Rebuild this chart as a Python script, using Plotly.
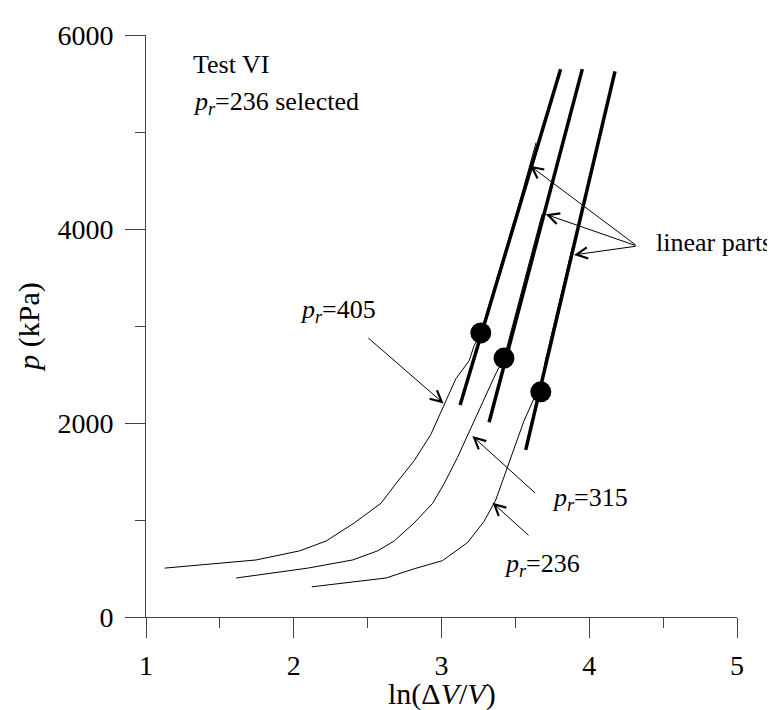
import plotly.graph_objects as go

# ---- data ----
x_tick_vals = [1, 2, 3, 4, 5]
y_tick_vals = [0, 2000, 4000, 6000]

curve405_x = [1.126, 1.745, 2.04, 2.22, 2.41, 2.59, 2.70, 2.815, 2.928, 3.018, 3.097, 3.187, 3.22, 3.266, 3.40, 3.52, 3.64]
curve405_y = [504, 588, 682, 784, 970, 1172, 1392, 1611, 1882, 2186, 2456, 2642, 2794, 2929, 3620, 4230, 4890]

curve315_x = [1.61, 2.095, 2.399, 2.568, 2.68, 2.815, 2.94, 3.018, 3.108, 3.22, 3.30, 3.367, 3.423, 3.55, 3.68]
curve315_y = [402, 504, 588, 682, 784, 970, 1172, 1375, 1645, 2017, 2287, 2507, 2669, 3400, 4150]

curve236_x = [2.122, 2.624, 2.815, 3.007, 3.176, 3.288, 3.367, 3.423, 3.49, 3.557, 3.626, 3.672, 3.70, 3.748, 3.886]
curve236_y = [311, 402, 497, 581, 767, 986, 1206, 1442, 1713, 2017, 2253, 2321, 2625, 2929, 3811]

fit405_x = [3.126, 3.806]
fit405_y = [2186, 5648]
fit315_x = [3.322, 3.953]
fit315_y = [2007, 5648]
fit236_x = [3.570, 4.174]
fit236_y = [1723, 5625]

sel_x = [3.266, 3.423, 3.672]
sel_y = [2929, 2669, 2321]

FONT = "Liberation Serif"
AXC = "#444444"

fig = go.Figure()
for cx, cy in [(curve405_x, curve405_y), (curve315_x, curve315_y), (curve236_x, curve236_y)]:
    fig.add_trace(go.Scatter(x=cx, y=cy, mode="lines",
                             line=dict(color="black", width=1), showlegend=False,
                             hoverinfo="skip"))
for fx, fy in [(fit405_x, fit405_y), (fit315_x, fit315_y), (fit236_x, fit236_y)]:
    fig.add_trace(go.Scatter(x=fx, y=fy, mode="lines",
                             line=dict(color="black", width=3.5), showlegend=False))
fig.add_trace(go.Scatter(x=sel_x, y=sel_y, mode="markers",
                         marker=dict(color="black", size=21), showlegend=False))

texts = [
    ("Test VI", 1.304, 5696),
    ("<i>p<sub>r</sub></i>=236 selected", 1.304, 5300),
    ("<i>p<sub>r</sub></i>=405", 2.027, 3150),
    ("<i>p<sub>r</sub></i>=315", 3.736, 1220),
    ("<i>p<sub>r</sub></i>=236", 3.412, 540),
    ("linear parts", 4.44, 3861),
]
ann = []
for t, x, y in texts:
    ann.append(dict(text=t, x=x, y=y, xref="x", yref="y", showarrow=False,
                    xanchor="left", yanchor="middle",
                    font=dict(family=FONT, size=26, color="black")))

# x-axis title placed just above the bottom edge
ann.append(dict(text="ln(Δ<i>V</i>/<i>V</i>)", x=0.5, y=-0.132, xref="paper",
                yref="paper", showarrow=False, xanchor="center", yanchor="middle",
                font=dict(family=FONT, size=30, color="black")))

arrows = [
    (3.014, 2202, 2.495, 2889),
    (3.209, 1865, 3.644, 1264),
    (3.345, 1179, 3.599, 828),
    (3.599, 4652, 4.324, 3824),
    (3.705, 4152, 4.324, 3824),
    (3.897, 3733, 4.324, 3824),
]
for hx, hy, tx, ty in arrows:
    ann.append(dict(text="", x=hx, y=hy, ax=tx, ay=ty, xref="x", yref="y",
                    axref="x", ayref="y", showarrow=True, arrowhead=5,
                    arrowsize=2.2, arrowwidth=1, arrowcolor="black", standoff=0))

fig.update_layout(
    width=775, height=710,
    margin=dict(l=138, r=46, t=17, b=101),
    paper_bgcolor="white", plot_bgcolor="white",
    font=dict(family=FONT, size=27, color="black"),
    annotations=ann,
    xaxis=dict(range=[1, 5], tickvals=x_tick_vals, ticks="outside", ticklen=20,
               tickwidth=1, tickcolor=AXC, showline=True, linecolor=AXC,
               linewidth=1, showgrid=False, zeroline=False, ticklabelstandoff=3,
               minor=dict(dtick=0.5, tick0=1, ticks="outside", ticklen=10,
                          tickcolor=AXC, tickwidth=1, showgrid=False),
               tickfont=dict(family=FONT, size=28)),
    yaxis=dict(range=[0, 6000], tickvals=y_tick_vals, ticks="outside", ticklen=20,
               tickwidth=1, tickcolor=AXC, showline=True, linecolor=AXC,
               linewidth=1, showgrid=False, zeroline=False, ticklabelstandoff=6,
               minor=dict(dtick=1000, tick0=0, ticks="outside", ticklen=10,
                          tickcolor=AXC, tickwidth=1, showgrid=False),
               tickfont=dict(family=FONT, size=28),
               title=dict(text="<i>p</i> (kPa)", standoff=8,
                          font=dict(family=FONT, size=30))),
)

fig.write_html("out.html")
